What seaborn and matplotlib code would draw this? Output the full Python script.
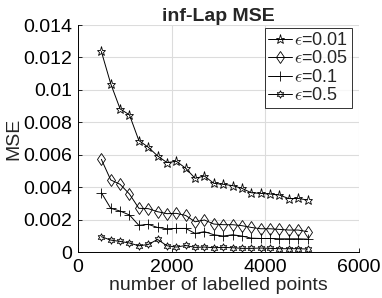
import matplotlib
matplotlib.use('Agg')

import pandas as pd
import matplotlib.pyplot as plt
import seaborn as sns

sns.set_theme(style="whitegrid")
plt.rcParams['font.family'] = ['Liberation Sans', 'DejaVu Sans']
plt.rcParams['mathtext.fontset'] = 'cm'

# Anzahl gelabelter Punkte
n_points = list(range(500, 5000, 200))

mse_001 = [0.01237, 0.01038, 0.00883, 0.00846, 0.00688, 0.00647, 0.00593, 0.00552,
           0.00560, 0.00517, 0.00455, 0.00469, 0.00424, 0.00418, 0.00410, 0.00393,
           0.00366, 0.00362, 0.00358, 0.00352, 0.00330, 0.00331, 0.00321]
mse_005 = [0.00572, 0.00445, 0.00418, 0.00358, 0.00270, 0.00268, 0.00249, 0.00237,
           0.00239, 0.00226, 0.00187, 0.00198, 0.00173, 0.00169, 0.00169, 0.00163,
           0.00152, 0.00144, 0.00144, 0.00140, 0.00136, 0.00136, 0.00126]
mse_01 = [0.00366, 0.00270, 0.00253, 0.00229, 0.00165, 0.00171, 0.00152, 0.00144,
          0.00146, 0.00146, 0.00115, 0.00126, 0.00107, 0.00099, 0.00107, 0.00099,
          0.00086, 0.00084, 0.00084, 0.00082, 0.00082, 0.00082, 0.00080]
mse_05 = [0.00095, 0.00074, 0.00066, 0.00056, 0.00039, 0.00047, 0.00078, 0.00039,
          0.00031, 0.00041, 0.00029, 0.00031, 0.00027, 0.00029, 0.00027, 0.00023,
          0.00023, 0.00025, 0.00023, 0.00021, 0.00021, 0.00021, 0.00019]

labels = [r'$\epsilon$=0.01', r'$\epsilon$=0.05', r'$\epsilon$=0.1', r'$\epsilon$=0.5']
series = [mse_001, mse_005, mse_01, mse_05]

rows = []
for lab, vals in zip(labels, series):
    for n, v in zip(n_points, vals):
        rows.append({'n': n, 'mse': v, 'eps': lab})
df = pd.DataFrame(rows)

fig = plt.figure(figsize=(3.82, 2.98), dpi=100)
ax = fig.add_axes([0.204, 0.154, 0.736, 0.762])

# MATLAB-artige Marker: Pentagramm, Raute, Plus, Hexagramm
markers = {labels[0]: '*', labels[1]: 'd', labels[2]: '+', labels[3]: (6, 1, 0)}
sizes = {labels[0]: 6.5, labels[1]: 6.5, labels[2]: 7, labels[3]: 5.5}

for lab in labels:
    sub = df[df['eps'] == lab]
    sns.lineplot(data=sub, x='n', y='mse', ax=ax, color='black', lw=0.7,
                 marker=markers[lab], markersize=sizes[lab],
                 markerfacecolor='none', markeredgecolor='black', markeredgewidth=0.6,
                 label=lab)

ax.set_xlim(0, 6000)
ax.set_ylim(0, 0.014)
ax.set_xticks([0, 2000, 4000, 6000])
ax.set_yticks([0, 0.002, 0.004, 0.006, 0.008, 0.01, 0.012, 0.014])
ax.set_yticklabels(['0', '0.002', '0.004', '0.006', '0.008', '0.01', '0.012', '0.014'])
ax.tick_params(labelsize=14, direction='in', length=3, width=0.6,
               bottom=True, left=True, colors='black')
ax.tick_params(axis='x', pad=5)
ax.tick_params(axis='y', pad=4)
ax.grid(True, color='#dcdcdc', lw=0.8)
for s in ['top', 'right']:
    ax.spines[s].set_visible(False)
for s in ['left', 'bottom']:
    ax.spines[s].set_color('black')
    ax.spines[s].set_linewidth(0.7)

ax.set_title('inf-Lap MSE', fontsize=14, fontweight='bold', pad=3)
ax.set_xlabel('number of labelled points', fontsize=14, labelpad=1)
ax.set_ylabel('MSE', fontsize=14, labelpad=1)

leg = ax.legend(loc='upper right', bbox_to_anchor=(0.975, 0.985), fontsize=13,
                frameon=True, fancybox=False, handlelength=1.3, handletextpad=0.15,
                borderpad=0.2, labelspacing=0.08, borderaxespad=0.0)
leg.get_frame().set_edgecolor('black')
leg.get_frame().set_linewidth(0.7)

fig.savefig('out.png', dpi=100)
